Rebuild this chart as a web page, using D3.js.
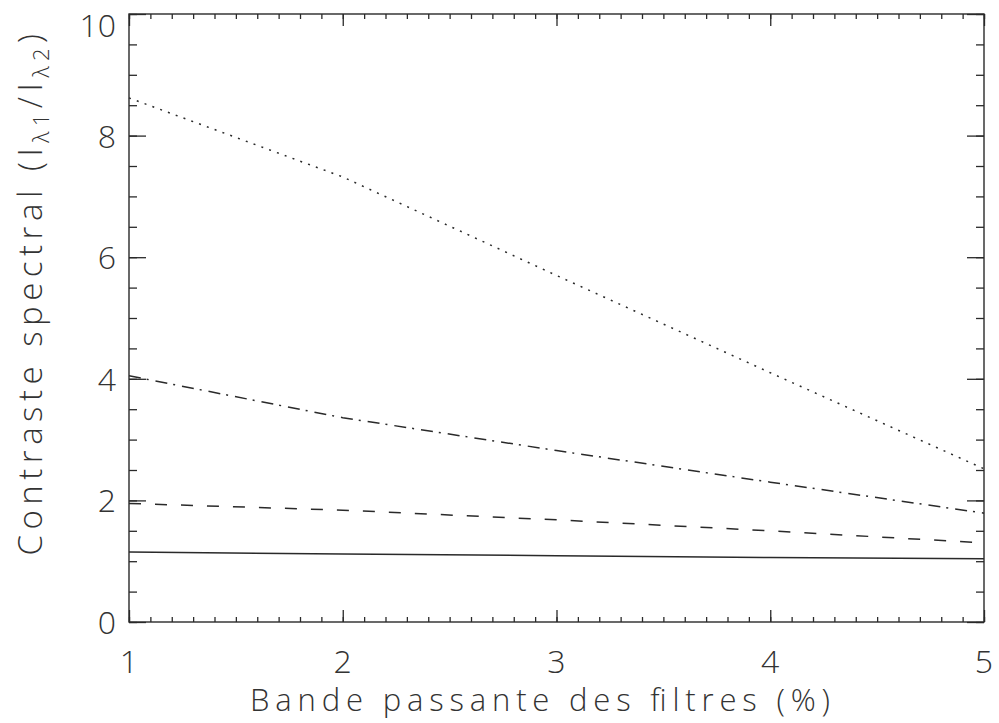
<!DOCTYPE html>
<html><head><meta charset="utf-8">
<script src="https://cdn.jsdelivr.net/npm/d3@7"></script>
<style>
body{margin:0;background:#fff;}
text{font-family:"Open Sans","DejaVu Sans",sans-serif;font-weight:300;fill:#333;}
</style></head>
<body><svg id="c" width="999" height="723"></svg>
<script>
const bandwidth = [1, 2, 3, 4, 5];
const seriesDotted  = [8.62, 7.32, 5.70, 4.10, 2.52];
const seriesDashDot = [4.05, 3.36, 2.82, 2.30, 1.79];
const seriesDashed  = [1.95, 1.84, 1.68, 1.50, 1.30];
const seriesSolid   = [1.15, 1.12, 1.09, 1.06, 1.04];
const xTicks = [1, 2, 3, 4, 5];
const yTicks = [0, 2, 4, 6, 8, 10];
const xTitle = "Bande passante des filtres (%)";

const svg = d3.select("#c");
const L = 129, R = 984, T = 14, B = 622;
const x = d3.scaleLinear().domain([1, 5]).range([L, R]);
const y = d3.scaleLinear().domain([0, 10]).range([B, T]);
const ink = "#2a2a2a";

const xMinor = d3.range(1, 5.0001, 0.1);
const yMinor = d3.range(0, 10.0001, 0.5);

function styleAxis(g){ g.select(".domain").remove(); g.selectAll("line").attr("stroke", ink).attr("stroke-width", 1.3); }

svg.append("g").attr("transform", `translate(0,${B})`)
  .call(d3.axisBottom(x).tickValues(xMinor).tickSize(-5).tickFormat("")).call(styleAxis);
svg.append("g").attr("transform", `translate(0,${B})`)
  .call(d3.axisBottom(x).tickValues(xTicks).tickSize(-12).tickFormat("")).call(styleAxis);
svg.append("g").attr("transform", `translate(0,${T})`)
  .call(d3.axisTop(x).tickValues(xMinor).tickSize(-5).tickFormat("")).call(styleAxis);
svg.append("g").attr("transform", `translate(0,${T})`)
  .call(d3.axisTop(x).tickValues(xTicks).tickSize(-12).tickFormat("")).call(styleAxis);
svg.append("g").attr("transform", `translate(${L},0)`)
  .call(d3.axisLeft(y).tickValues(yMinor).tickSize(-8).tickFormat("")).call(styleAxis);
svg.append("g").attr("transform", `translate(${L},0)`)
  .call(d3.axisLeft(y).tickValues(yTicks).tickSize(-17).tickFormat("")).call(styleAxis);
svg.append("g").attr("transform", `translate(${R},0)`)
  .call(d3.axisRight(y).tickValues(yMinor).tickSize(-8).tickFormat("")).call(styleAxis);
svg.append("g").attr("transform", `translate(${R},0)`)
  .call(d3.axisRight(y).tickValues(yTicks).tickSize(-17).tickFormat("")).call(styleAxis);

// tick labels
svg.append("g").selectAll("text").data(xTicks).join("text")
  .attr("x", d => x(d)).attr("y", 673).attr("text-anchor", "middle")
  .attr("font-size", 32).text(d => d);
svg.append("g").selectAll("text").data(yTicks).join("text")
  .attr("x", 116).attr("y", d => Math.max(y(d) + 12, 37)).attr("text-anchor", "end")
  .attr("font-size", 32).text(d => d);

// frame
svg.append("rect").attr("x", L).attr("y", T).attr("width", R - L).attr("height", B - T)
  .attr("fill", "none").attr("stroke", ink).attr("stroke-width", 1.4);

// titles
svg.append("text").attr("x", 540).attr("y", 711).attr("text-anchor", "middle")
  .attr("font-size", 31).attr("textLength", 580).attr("lengthAdjust", "spacing").text(xTitle);

const yt = svg.append("text").attr("transform", "translate(42,292) rotate(-90)")
  .attr("text-anchor", "middle").attr("font-size", 33).attr("letter-spacing", 5.5);
yt.append("tspan").text("Contraste spectral (I");
yt.append("tspan").attr("font-size", 22).attr("dy", 7).text("λ1");
yt.append("tspan").attr("dy", -7).text("/I");
yt.append("tspan").attr("font-size", 22).attr("dy", 7).text("λ2");
yt.append("tspan").attr("dy", -7).text(")");

// lines
const line = d3.line().x((d, i) => x(bandwidth[i])).y(d => y(d));
const series = [
  {v: seriesDotted, dash: "2,6.3"},
  {v: seriesDashDot, dash: "12,6,2,7"},
  {v: seriesDashed, dash: "12,14"},
  {v: seriesSolid, dash: null}
];
svg.append("g").selectAll("path").data(series).join("path")
  .attr("d", d => line(d.v)).attr("fill", "none").attr("stroke", ink)
  .attr("stroke-width", 1.5).attr("stroke-dasharray", d => d.dash);
</script></body></html>
